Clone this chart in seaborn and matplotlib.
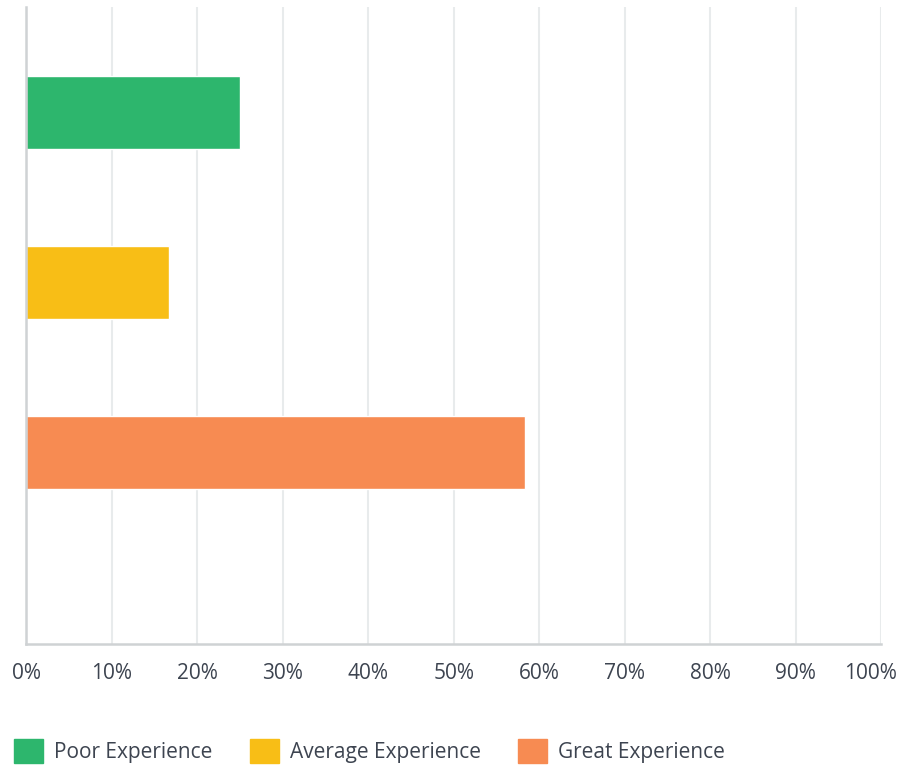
import pandas as pd
import matplotlib.pyplot as plt
import matplotlib.transforms as mtransforms
from matplotlib.patches import Patch
import seaborn as sns

categorias = ["Poor Experience", "Average Experience", "Great Experience"]
valores = [25.0, 16.67, 58.33]
colores = ["#2db66d", "#f8be16", "#f78b52"]
ticks = list(range(0, 101, 10))
tick_labels = [f"{t}%" for t in ticks]

df = pd.DataFrame({"Experiencia": categorias, "Porcentaje": valores})

sns.set_style("white")
plt.rcParams["font.family"] = ["Open Sans", "DejaVu Sans"]

fig = plt.figure(figsize=(9.04, 7.66), dpi=100)
ax = fig.add_axes([0.0293, 0.1599, 0.9453, 0.831])

sns.barplot(data=df, y="Experiencia", x="Porcentaje", hue="Experiencia",
            palette=colores, width=0.43, legend=False, ax=ax, saturation=1)

ax.set_xlim(0, 100)
ax.set_ylim(3.12, -0.62)
ax.set_xticks(ticks)
ax.set_xticklabels(tick_labels, fontsize=15, color="#3d4450")
ax.set_yticks([])
ax.set_xlabel("")
ax.set_ylabel("")
ax.tick_params(axis="x", length=0, pad=14)
# el ultimo rotulo se corre a la izquierda para que quepa
ultimo = ax.get_xticklabels()[-1]
ultimo.set_transform(ultimo.get_transform() +
                     mtransforms.ScaledTranslation(-0.11, 0, fig.dpi_scale_trans))
ax.grid(axis="x", color="#e8ebec", linewidth=1.5)
ax.set_axisbelow(True)
for s in ["top", "right"]:
    ax.spines[s].set_visible(False)
for s in ["left", "bottom"]:
    ax.spines[s].set_color("#cfd2d4")
    ax.spines[s].set_linewidth(1.8)

handles = [Patch(facecolor=c, edgecolor=c, label=l) for c, l in zip(colores, categorias)]
fig.legend(handles=handles, loc="lower left", bbox_to_anchor=(14 / 904, 3 / 766), ncol=3,
           frameon=False, fontsize=15, labelcolor="#3d4450",
           borderpad=0, borderaxespad=0,
           handlelength=1.39, handleheight=1.39, handletextpad=0.53, columnspacing=1.8)

fig.savefig("out.png", dpi=100)
